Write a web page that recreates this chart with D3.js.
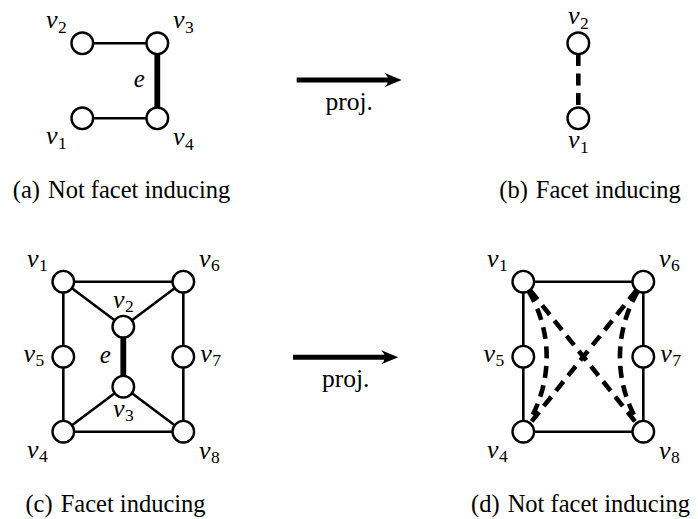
<!DOCTYPE html>
<html><head><meta charset="utf-8">
<script src="https://cdn.jsdelivr.net/npm/d3@7"></script>
<style>html,body{margin:0;padding:0;background:#fff;} svg{display:block;}</style>
</head><body>
<svg id="fig" width="698" height="519"></svg>
<script>
// ---------- DATA (layout units; label side hint) ----------
const nodesA = [["v1",0,0,"sw"],["v2",0,1,"nw"],["v3",1,1,"ne"],["v4",1,0,"se"]];
const edgesA = [["v1","v4","solid"],["v2","v3","solid"],["v3","v4","thick"]];
const edgeLabelA = ["v3","v4","e"];

const nodesB = [["v1",0,0,"s"],["v2",0,1,"n"]];
const edgesB = [["v2","v1","dashed"]];

const nodesC = [["v1",0,2,"nw"],["v2",0.8,1.4,"n"],["v3",0.8,0.6,"s"],["v4",0,0,"sw"],
                ["v5",0,1,"w"],["v6",1.6,2,"ne"],["v7",1.6,1,"e"],["v8",1.6,0,"se"]];
const edgesC = [["v1","v6","solid"],["v1","v5","solid"],["v5","v4","solid"],["v4","v8","solid"],
                ["v8","v7","solid"],["v7","v6","solid"],["v1","v2","solid"],["v6","v2","solid"],
                ["v2","v3","thick"],["v3","v4","solid"],["v3","v8","solid"]];
const edgeLabelC = ["v2","v3","e"];

const nodesD = [["v1",0,2,"nw"],["v4",0,0,"sw"],["v5",0,1,"w"],["v6",1.6,2,"ne"],["v7",1.6,1,"e"],["v8",1.6,0,"se"]];
const edgesD = [["v1","v6","solid"],["v1","v5","solid"],["v5","v4","solid"],["v4","v8","solid"],
                ["v8","v7","solid"],["v7","v6","solid"],
                ["v1","v8","dashed"],["v6","v4","dashed"],
                ["v1","v4","dashed","east"],["v6","v8","dashed","west"]];

const captions = [["(a)","Not facet inducing"],["(b)","Facet inducing"],["(c)","Facet inducing"],["(d)","Not facet inducing"]];
const arrowLabel = "proj.";

// ---------- LAYOUT ----------
const svg = d3.select("#fig");
const unit = d3.scaleLinear().domain([0,1]).range([0,75]);
const R = 10.8;
const SERIF = "'Liberation Serif','Times New Roman',Times,serif";

const gEdges = svg.append("g"), gNodes = svg.append("g"), gText = svg.append("g");

const labelOff = {
  nw:[-26,-15,"middle"], ne:[26,-15,"middle"], sw:[-26,26,"middle"], se:[26,27,"middle"],
  n:[0,-19,"middle"], s:[0,30,"middle"], w:[-19,5,"end"], e:[17,5,"start"]
};
const edgeStyle = {
  solid:{w:2.6,dash:null}, thick:{w:5.8,dash:null}, dashed:{w:4.6,dash:"12,7.5"}
};

function drawGraph(nodes, edges, ox, oy, edgeLabel){
  const pos = {};
  nodes.forEach(([id,x,y]) => pos[id] = {x: ox + unit(x), y: oy - unit(y)});
  edges.forEach(([a,b,type,bend]) => {
    const A = pos[a], B = pos[b], st = edgeStyle[type];
    const vx = B.x - A.x, vy = B.y - A.y, L = Math.hypot(vx,vy);
    const ux = vx/L, uy = vy/L;
    let d;
    if (bend){
      let nx = -uy, ny = ux;
      const want = bend === "east" ? 1 : -1;
      if (Math.sign(nx) !== want){ nx = -nx; ny = -ny; }
      const k = 0.3915*L, c = Math.cos(Math.PI/6), s = Math.sin(Math.PI/6);
      const P1 = {x: A.x + k*(c*ux + s*nx), y: A.y + k*(c*uy + s*ny)};
      const P2 = {x: B.x + k*(-c*ux + s*nx), y: B.y + k*(-c*uy + s*ny)};
      const t1 = Math.hypot(P1.x-A.x,P1.y-A.y), t2 = Math.hypot(P2.x-B.x,P2.y-B.y);
      const S0 = {x: A.x + R*(P1.x-A.x)/t1, y: A.y + R*(P1.y-A.y)/t1};
      const S1 = {x: B.x + R*(P2.x-B.x)/t2, y: B.y + R*(P2.y-B.y)/t2};
      const p = d3.path(); p.moveTo(S0.x,S0.y); p.bezierCurveTo(P1.x,P1.y,P2.x,P2.y,S1.x,S1.y);
      d = p.toString();
    } else {
      const p = d3.path(); p.moveTo(A.x + R*ux, A.y + R*uy); p.lineTo(B.x - R*ux, B.y - R*uy);
      d = p.toString();
    }
    gEdges.append("path").attr("d", d).attr("fill","none").attr("stroke","#000")
      .attr("stroke-width", st.w).attr("stroke-dasharray", st.dash).attr("stroke-linecap","butt");
  });
  gNodes.selectAll(null).data(nodes).enter().append("circle")
    .attr("cx", d => pos[d[0]].x).attr("cy", d => pos[d[0]].y).attr("r", R)
    .attr("fill","#fff").attr("stroke","#000").attr("stroke-width",2.4);
  nodes.forEach(([id,x,y,side]) => {
    const o = labelOff[side];
    const t = gText.append("text").attr("x", pos[id].x + o[0]).attr("y", pos[id].y + o[1])
      .attr("text-anchor", o[2]).attr("font-family", SERIF).attr("font-size", 26);
    t.append("tspan").attr("font-style","italic").text(id[0]);
    t.append("tspan").attr("font-size",17.5).attr("dy",4.5).attr("dx",0.5).text(id.slice(1));
  });
  if (edgeLabel){
    const A = pos[edgeLabel[0]], B = pos[edgeLabel[1]];
    gText.append("text").attr("x", (A.x+B.x)/2 - 18).attr("y", (A.y+B.y)/2 + 6.5)
      .attr("text-anchor","middle").attr("font-family",SERIF).attr("font-style","italic")
      .attr("font-size",25).text(edgeLabel[2]);
  }
}

function drawArrow(x1, x2, y){
  svg.append("line").attr("x1",x1).attr("x2",x2-8).attr("y1",y).attr("y2",y)
    .attr("stroke","#000").attr("stroke-width",5);
  const p = d3.path();
  p.moveTo(x2,y); p.lineTo(x2-17,y-7); p.quadraticCurveTo(x2-10,y,x2-17,y+7); p.closePath();
  svg.append("path").attr("d",p.toString()).attr("fill","#000");
  svg.append("text").attr("x",(x1+x2)/2).attr("y",y+30).attr("text-anchor","middle")
    .attr("font-family",SERIF).attr("font-size",25.5).text(arrowLabel);
}

function drawCaption(c, cx, y){
  const t = svg.append("text").attr("x",cx).attr("y",y).attr("text-anchor","middle")
    .attr("font-family",SERIF).attr("font-size",24.5);
  t.append("tspan").text(c[0]);
  t.append("tspan").attr("dx",8).text(c[1]);
}

drawGraph(nodesA, edgesA, 82.3, 118.3, edgeLabelA);
drawGraph(nodesB, edgesB, 578.3, 118.3, null);
drawGraph(nodesC, edgesC, 63.3, 431.7, edgeLabelC);
drawGraph(nodesD, edgesD, 523.3, 431.7, null);
drawArrow(296.7, 401.7, 80);
drawArrow(293, 398.3, 357.3);
drawCaption(captions[0], 121.5, 198);
drawCaption(captions[1], 590, 198);
drawCaption(captions[2], 115.5, 511.5);
drawCaption(captions[3], 580.5, 511.5);
</script>
</body></html>
